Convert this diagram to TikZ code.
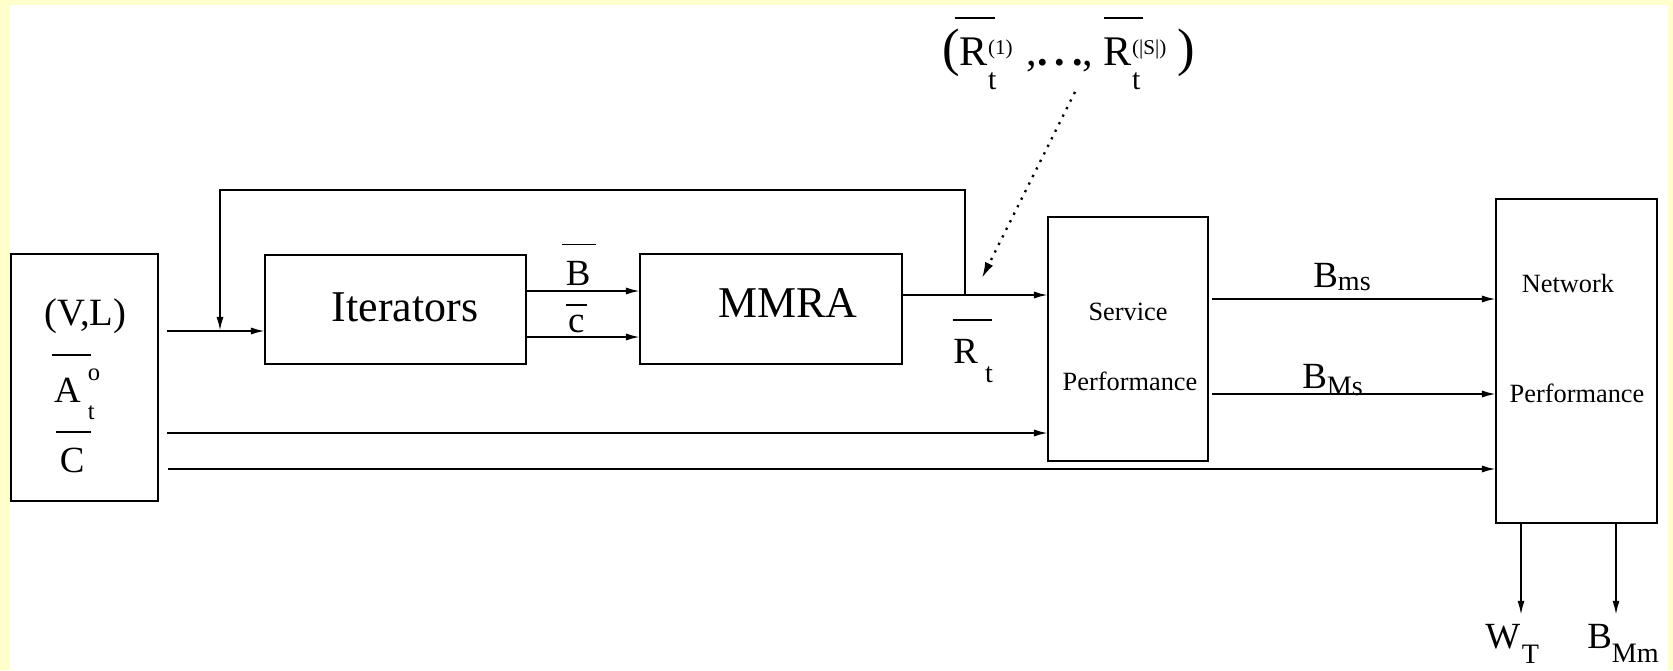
\documentclass[tikz,border=0pt]{standalone}
\usepackage{fontspec}
\setmainfont{Liberation Serif}
\usepackage{tikz}
\usetikzlibrary{arrows.meta,positioning,calc}

\definecolor{frameyellow}{HTML}{FFFFCC}

% bar over a text (raise, bar width, text) and raised / lowered scripts
\newcommand{\ovl}[3]{\rlap{\rule[#1]{#2}{1.1pt}}#3}
\newcommand{\lift}[3][16]{\raisebox{#2}{\fontsize{#1}{#1}\selectfont #3}}

\tikzset{
  blk/.style={draw, line width=1.1pt, inner sep=0pt, outer sep=0pt},
  arr/.style={line width=1.1pt, -{Latex[length=8pt,width=4pt]}},
  bigtxt/.style={font=\fontsize{25}{30}\selectfont},
  lbl/.style={font=\fontsize{21}{25}\selectfont, inner sep=0pt},
  smalltxt/.style={font=\fontsize{15}{18}\selectfont, inner sep=0pt},
}

\begin{document}
\begin{tikzpicture}[x=0.02cm, y=-0.02cm]
  \useasboundingbox (0,0) rectangle (1673,670);
  % yellow frame
  \fill[frameyellow] (0,0) rectangle (1673,670);
  \fill[white] (10,5) rectangle (1668,670);

  \begin{scope}
  \clip (10,5) rectangle (1668,670);

  % Blocks
  \node[blk, minimum width=2.94cm, minimum height=4.94cm] (inbox) at (84.5,377.5) {};
  \node[blk, minimum width=5.22cm, minimum height=2.18cm] (iter) at (395.5,309.5) {};
  \node[blk, minimum width=5.24cm, minimum height=2.2cm] (mmra) at (771,309) {};
  \node[blk, minimum width=3.2cm, minimum height=4.88cm] (serv) at (1128,339) {};
  \node[blk, minimum width=3.22cm, minimum height=6.48cm] (netw) at (1576.5,361) {};

  % Block texts
  \node[bigtxt] (itertxt) at (405,307) {Iterators};
  \node[bigtxt] (mmratxt) at (788,303) {MMRA};
  \node[smalltxt] (servtop) at (1128,312) {Service};
  \node[smalltxt] (servbot) at (1130,381) {Performance};
  \node[smalltxt] (netwtop) at (1568,283) {Network};
  \node[smalltxt] (netwbot) at (1577,393) {Performance};

  % Input labels
  \node[lbl, font=\fontsize{22}{26}\selectfont, anchor=base west] (vl) at (44,325) {(V,L)};
  \node[lbl, anchor=base west] (alab) at (52,402)
    {\ovl{26pt}{22pt}{\hspace{1pt}A}\hspace{4pt}\makebox[8pt][l]{\rlap{\lift[14]{12pt}{o}}\lift[14]{-10pt}{t}}};
  \node[lbl, anchor=base west] (clab) at (56,472) {\ovl{22pt}{20pt}{\hspace{2pt}C}};

  % Wire levels
  \coordinate (inA) at (167,331);
  \coordinate (inB) at (167,433);
  \coordinate (inC) at (168,469);
  \coordinate (yB) at (0,291);
  \coordinate (yc) at (0,337);
  \coordinate (yR) at (0,295);
  \coordinate (yms) at (0,299);
  \coordinate (yMs) at (0,394);
  \coordinate (fbR) at (965,295);
  \coordinate (fbT) at (220,190);
  \coordinate (outW) at (1521,615);
  \coordinate (outB) at (1616,615);

  % Connectors
  \draw[arr] (inA) -- (inA -| iter.west);
  \draw[arr] (inB) -- (inB -| serv.west);
  \draw[arr] (inC) -- (inC -| netw.west);
  \draw[arr] (fbR) |- (fbT) -- (fbT |- inA);
  \draw[arr] (iter.east |- yB) -- (mmra.west |- yB);
  \draw[arr] (iter.east |- yc) -- (mmra.west |- yc);
  \draw[arr] (mmra.east |- yR) -- (serv.west |- yR);
  \draw[arr] ([xshift=0.08cm]serv.east |- yms) -- (netw.west |- yms);
  \draw[arr] ([xshift=0.08cm]serv.east |- yMs) -- (netw.west |- yMs);
  \draw[arr] (netw.south -| outW) -- (outW);
  \draw[arr] (netw.south -| outB) -- (outB);

  % Wire labels
  \node[lbl, anchor=base west] (blab) at (562,285) {\ovl{22.5pt}{19pt}{\hspace{2pt}B}};
  \node[lbl, anchor=base west] (cbar) at (566,332) {\ovl{14.7pt}{12pt}{\hspace{1pt}c}};
  \node[lbl, anchor=base west] (rlab) at (953,363) {\ovl{24pt}{22pt}{R}\hspace{4pt}\lift{-11pt}{t}};
  \node[lbl, anchor=base west] (bms) at (1313,287) {B\lift{-2pt}{ms}};
  \node[lbl, anchor=base west] (bMs) at (1302,388) {B\lift{-4pt}{Ms}};
  \node[lbl, anchor=base west] (wt) at (1485,648) {W\hspace{1pt}\lift{-9pt}{T}};
  \node[lbl, anchor=base west] (bMm) at (1587,648) {B\lift{-8pt}{Mm}};

  % Set of service rates
  \node[lbl, font=\fontsize{24}{28}\selectfont, anchor=base west] (rset) at (942,65)
    {{\fontsize{30}{30}\selectfont(}\hspace{-3pt}\ovl{26pt}{23pt}{\hspace{3pt}R}\makebox[18pt][l]{\rlap{\lift[12]{6pt}{(1)}}\lift[17]{-14pt}{t}}\hspace{4pt},\textbf{.\hspace{4pt}.\hspace{4pt}.},
     \ovl{26pt}{22pt}{R}\makebox[26pt][l]{\rlap{\lift[12]{6pt}{(|S|)}}\lift[17]{-14pt}{t}}{\fontsize{30}{30}\selectfont)}};
  \coordinate (rsetTail) at (1075,92);
  \coordinate (rsetHead) at (982,278);
  \draw[line width=1.3pt, dash pattern=on 1.3pt off 3.5pt, -{Latex[length=9pt,width=5pt]}] (rsetTail) -- (rsetHead);
  \end{scope}
\end{tikzpicture}
\end{document}
